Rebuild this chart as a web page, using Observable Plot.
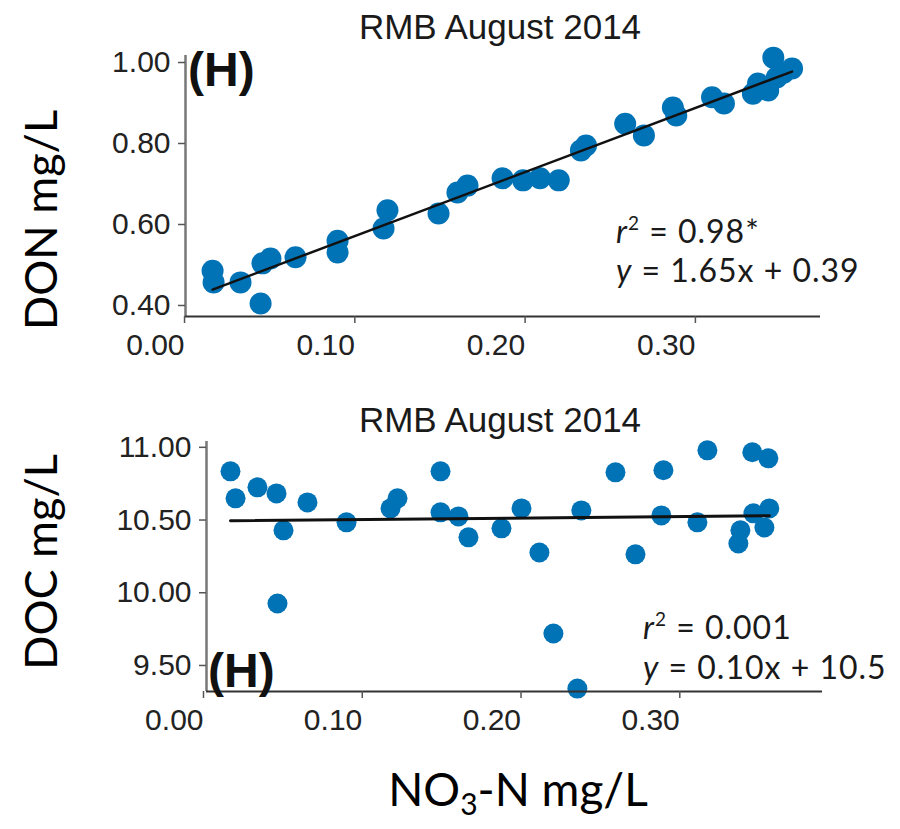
<!DOCTYPE html>
<html><head><meta charset="utf-8">
<script src="https://cdn.jsdelivr.net/npm/d3@7"></script>
<script src="https://cdn.jsdelivr.net/npm/@observablehq/plot@0.6"></script>
<style>
body{margin:0;background:#fff;}
#wrap{position:relative;width:900px;height:829px;overflow:hidden;background:#fff;}
#wrap svg{position:absolute;left:0;}
</style></head><body><div id="wrap"></div>
<script>
// ---- data ----
const titleText = "RMB August 2014";
const panelTag = "(H)";
const xTicks = [0, 0.1, 0.2, 0.3];
const donTicks = [0.4, 0.6, 0.8, 1.0];
const docTicks = [9.5, 10.0, 10.5, 11.0];

const donX = [0.0147,0.0153,0.0311,0.0429,0.0440,0.0487,0.0634,0.0881,0.0881,0.1174,0.1151,0.1474,0.1585,0.1644,0.1850,0.1970,0.2070,0.2180,0.2340,0.2310,0.2570,0.2680,0.2850,0.2870,0.3080,0.3150,0.3350,0.3320,0.3410,0.3440,0.3500,0.3550,0.3460];
const donY = [0.486,0.457,0.457,0.405,0.504,0.516,0.519,0.560,0.531,0.635,0.590,0.627,0.679,0.696,0.714,0.709,0.714,0.709,0.795,0.783,0.849,0.820,0.889,0.869,0.914,0.899,0.948,0.923,0.931,1.012,0.975,0.985,0.963];

const docX = [0.0151,0.0183,0.0321,0.0441,0.0485,0.0447,0.0636,0.0882,0.1159,0.1203,0.1474,0.1474,0.1587,0.1650,0.1858,0.1984,0.2097,0.2185,0.2336,0.2361,0.2576,0.2702,0.2878,0.2865,0.3092,0.3155,0.3438,0.3539,0.3545,0.3363,0.3350,0.3445,0.3514];
const docY = [10.835,10.649,10.725,10.683,10.429,9.926,10.621,10.484,10.580,10.649,10.835,10.553,10.525,10.381,10.443,10.580,10.277,9.720,9.341,10.566,10.828,10.264,10.842,10.532,10.484,10.979,10.966,10.924,10.580,10.429,10.339,10.546,10.449];

const topStats = ["0.98*", "y = 1.65x + 0.39"];
const botStats = ["0.001", "y = 0.10x + 10.5"];
const yLabelTop = "DON mg/L";
const yLabelBot = "DOC mg/L";

// ---- build ----
const wrap = document.getElementById("wrap");
const dotColor = "#0072b6";
const fmt = d3.format(".2f");
const tickFont = "'Liberation Sans', Arial, sans-serif";

function panel({xs, ys, yTicks, xDomain, yDomain, top, height, mt, mb, ml, mr, r, lw}) {
  const data = xs.map((x, i) => ({x, y: ys[i]}));
  const p = Plot.plot({
    width: 900, height,
    marginTop: mt, marginBottom: mb, marginLeft: ml, marginRight: mr,
    style: {fontFamily: tickFont, fontSize: "30px", color: "#222", background: "transparent", overflow: "visible"},
    x: {domain: xDomain},
    y: {domain: yDomain},
    marks: [
      Plot.dot(data, {x: "x", y: "y", r, fill: dotColor, stroke: null}),
      Plot.linearRegressionY(data, {x: "x", y: "y", stroke: "#111", strokeWidth: lw, ci: 0}),
      Plot.ruleX([xDomain[0]], {stroke: "#777", strokeWidth: 2.5}),
      Plot.ruleY([yDomain[0]], {stroke: "#333", strokeWidth: 2}),
      Plot.axisY({ticks: yTicks, tickFormat: fmt, tickSize: 7, tickPadding: 8, label: null, stroke: "#555", strokeWidth: 1.5}),
      Plot.axisX({ticks: xTicks, tickFormat: fmt, tickSize: 7, tickPadding: 10, label: null, textAnchor: "end", dx: -3, stroke: "#555", strokeWidth: 1.5})
    ]
  });
  p.style.top = top + "px";
  wrap.appendChild(p);
}

// top panel: y axis at x=185, frame 55..316
panel({xs: donX, ys: donY, yTicks: donTicks,
  xDomain: [-0.0012, 0.3717], yDomain: [0.3728, 1.0173],
  top: 0, height: 370, mt: 55, mb: 54, ml: 185, mr: 80, r: 11, lw: 2.5});

// bottom panel: y axis at x=206, frame 441..691
panel({xs: docX, ys: docY, yTicks: docTicks,
  xDomain: [0, 0.388], yDomain: [9.321, 11.04],
  top: 380, height: 400, mt: 61, mb: 89, ml: 206, mr: 78, r: 10, lw: 3});

// ---- annotation overlay ----
const svg = d3.select(wrap).append("svg").attr("width", 900).attr("height", 829).style("top", "0px");
const sans = "'Liberation Sans', Arial, sans-serif";
const cal = "Lato, 'Open Sans', sans-serif";

function t(x, y, s, o = {}) {
  const e = svg.append("text").attr("x", x).attr("y", y).text(s)
    .attr("font-family", o.ff || sans).attr("font-size", o.fs || 29)
    .attr("fill", o.fill || "#1a1a1a").attr("text-anchor", o.anchor || "start");
  if (o.bold) e.attr("font-weight", "bold");
  if (o.rot) e.attr("transform", `rotate(-90 ${x} ${y})`);
  return e;
}
t(500, 39, titleText, {anchor: "middle", fs: 35});
t(500, 432, titleText, {anchor: "middle", fs: 35});
t(188, 86, panelTag, {bold: true, fs: 48, fill: "#111"});
t(208, 687, panelTag, {bold: true, fs: 48, fill: "#111"});

function stats(x, y1, y2, s) {
  const a = svg.append("text").attr("x", x).attr("y", y1).attr("font-family", cal).attr("font-size", 32)
    .attr("letter-spacing", 1).attr("fill", "#1a1a1a");
  a.append("tspan").attr("font-style", "italic").text("r");
  a.append("tspan").attr("font-size", 19).attr("dy", -13).text("2");
  a.append("tspan").attr("dy", 13).text(" = " + s[0]);
  const b = svg.append("text").attr("x", x).attr("y", y2).attr("font-family", cal).attr("font-size", 32)
    .attr("letter-spacing", 1).attr("fill", "#1a1a1a");
  b.append("tspan").attr("font-style", "italic").text(s[1].slice(0, 1));
  b.append("tspan").text(s[1].slice(1));
}
stats(616, 243, 282, topStats);
stats(643, 639, 679, botStats);

t(57, 220, yLabelTop, {ff: cal, fs: 45, anchor: "middle", rot: true, fill: "#000"});
t(57, 562, yLabelBot, {ff: cal, fs: 45, anchor: "middle", rot: true, fill: "#000"});

const xl = svg.append("text").attr("x", 518).attr("y", 806).attr("text-anchor", "middle")
  .attr("font-family", cal).attr("font-size", 46).attr("fill", "#000");
xl.append("tspan").text("NO");
xl.append("tspan").attr("font-size", 30).attr("dy", 9).text("3");
xl.append("tspan").attr("dy", -9).text("-N mg/L");
</script></body></html>
